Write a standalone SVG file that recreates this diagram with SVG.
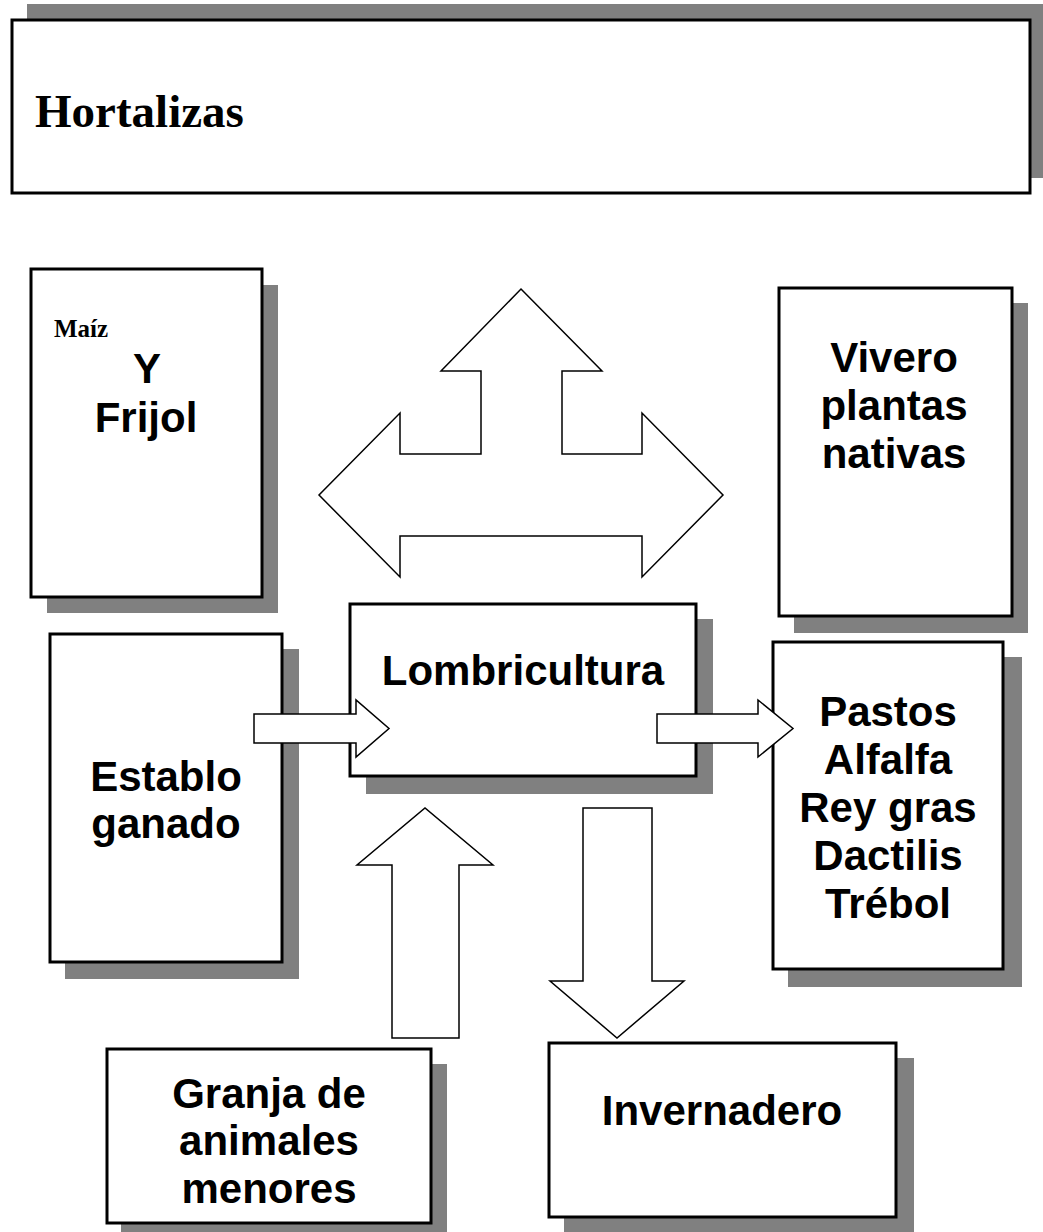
<svg xmlns="http://www.w3.org/2000/svg" width="1043" height="1232" viewBox="0 0 1043 1232">
<style>
.sh{fill:#808080;stroke:none}
.bx{fill:#fff;stroke:#000;stroke-width:3}
.t{font-family:"Liberation Sans",Arial,sans-serif;font-weight:bold;font-size:42px;fill:#000;text-anchor:middle}
.s{font-family:"Liberation Serif","Times New Roman",serif;font-weight:bold;fill:#000}
.ar{fill:#fff;stroke:#000;stroke-width:1.5;stroke-linejoin:miter}
</style>
<rect width="1043" height="1232" fill="#fff"/>
<g id="hortalizas">
<rect class="sh" x="27" y="4" width="1030" height="174"/>
<rect class="bx" x="12" y="20" width="1018" height="173"/>
<text class="s" x="35" y="127" font-size="47">Hortalizas</text>
</g>
<g id="maiz-frijol">
<rect class="sh" x="47" y="285" width="231" height="328"/>
<rect class="bx" x="31" y="269" width="231" height="328"/>
<text class="s" x="54" y="337" font-size="25">Maíz</text>
<text class="t" x="147" y="383">Y</text>
<text class="t" x="146" y="432">Frijol</text>
</g>
<g id="vivero">
<rect class="sh" x="794" y="303" width="234" height="330"/>
<rect class="bx" x="779" y="288" width="233" height="328"/>
<text class="t" x="894" y="372">Vivero</text>
<text class="t" x="894" y="420">plantas</text>
<text class="t" x="894" y="468">nativas</text>
</g>
<g id="lombricultura">
<rect class="sh" x="366" y="619" width="347" height="175"/>
<rect class="bx" x="350" y="604" width="346" height="172"/>
<text class="t" x="523" y="685">Lombricultura</text>
</g>
<g id="establo">
<rect class="sh" x="65" y="649" width="234" height="330"/>
<rect class="bx" x="50" y="634" width="232" height="328"/>
<text class="t" x="166" y="791">Establo</text>
<text class="t" x="166" y="838">ganado</text>
</g>
<g id="pastos">
<rect class="sh" x="788" y="657" width="234" height="330"/>
<rect class="bx" x="773" y="642" width="230" height="327"/>
<text class="t" x="888" y="726">Pastos</text>
<text class="t" x="888" y="774">Alfalfa</text>
<text class="t" x="888" y="822">Rey gras</text>
<text class="t" x="888" y="870">Dactilis</text>
<text class="t" x="888" y="918">Trébol</text>
</g>
<g id="granja">
<rect class="sh" x="121" y="1064" width="326" height="175"/>
<rect class="bx" x="107" y="1049" width="324" height="174"/>
<text class="t" x="269" y="1108">Granja de</text>
<text class="t" x="269" y="1155">animales</text>
<text class="t" x="269" y="1203">menores</text>
</g>
<g id="invernadero">
<rect class="sh" x="564" y="1058" width="350" height="180"/>
<rect class="bx" x="549" y="1043" width="347" height="174"/>
<text class="t" x="722" y="1125">Invernadero</text>
</g>
<g id="connectors">
<path class="ar" d="M521,289 L602,371 L562,371 L562,454 L642,454 L642,413 L723,495 L642,577 L642,536 L400,536 L400,577 L319,495 L400,413 L400,454 L481,454 L481,371 L441,371 Z"/>
<path class="ar" d="M254,714 L356,714 L356,700 L389,728.5 L356,757 L356,743 L254,743 Z"/>
<path class="ar" d="M657,714 L758,714 L758,700 L793,728.5 L758,757 L758,743 L657,743 Z"/>
<path class="ar" d="M392,1038 L392,865 L357,865 L425,808 L493,865 L459,865 L459,1038 Z"/>
<path class="ar" d="M583,808 L652,808 L652,981 L684,981 L617,1038 L550,981 L583,981 Z"/>
</g>
</svg>
